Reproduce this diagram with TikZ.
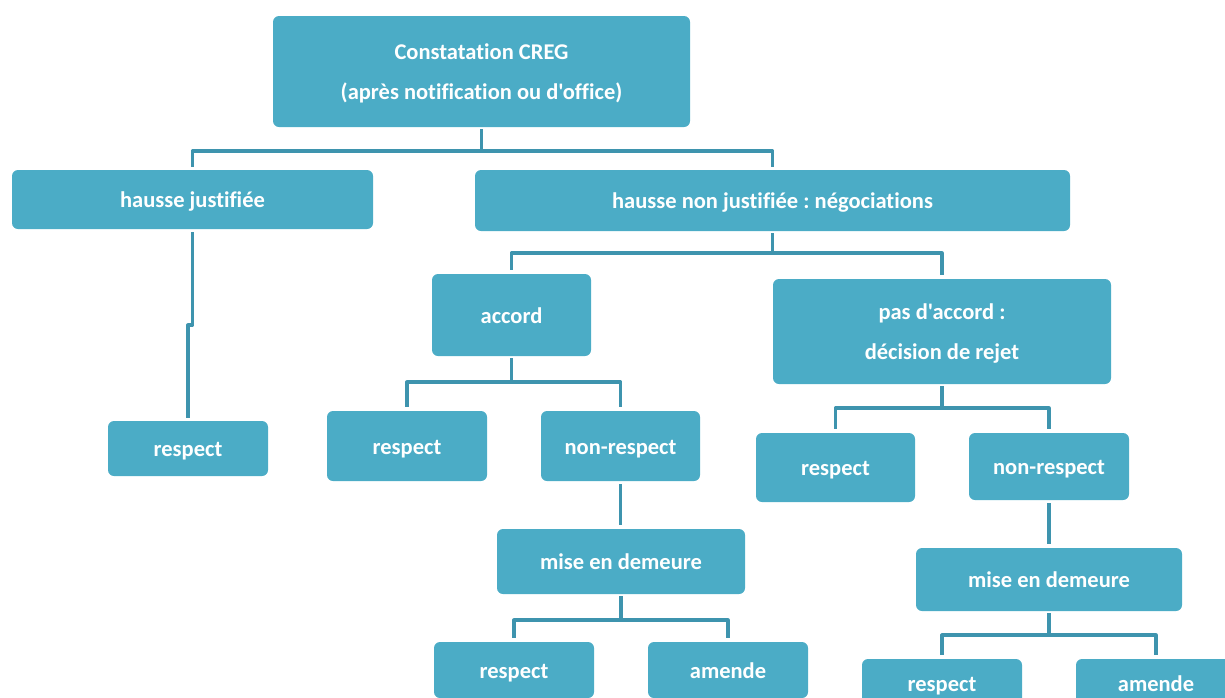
\documentclass[tikz,border=0pt]{standalone}
\usepackage{fontspec}
\newfontfamily\calib{Carlito}[Ligatures=NoCommon]
\definecolor{boxfill}{RGB}{75,172,198}
\definecolor{linecol}{RGB}{62,148,174}
\newcommand\lbl[1]{\raisebox{-2pt}{\begin{tabular}{@{}c@{}}#1\end{tabular}}}
\tikzset{
  box/.style={draw=none, fill=boxfill, rounded corners=6pt, text=white,
    font=\calib\fontsize{22.5}{40}\selectfont\bfseries\frenchspacing, align=center, inner sep=0pt},
  conn/.style={draw=linecol, line width=3.5pt, line join=round, line cap=butt},
}
\begin{document}
\begin{tikzpicture}[x=1pt,y=-1pt]
\useasboundingbox (0,0) rectangle (1225,697);
\clip (0,0) rectangle (1225,697);
% nodes
\node[box, minimum width=417pt, minimum height=111pt] (top) at (481.5,71.5) {\lbl{Constatation CREG\\(après notification ou d'office)}};
\node[box, minimum width=361pt, minimum height=59pt] (hj) at (192.5,199.5) {\lbl{hausse justifiée}};
\node[box, minimum width=595pt, minimum height=61pt] (hnj) at (772.5,200.5) {\lbl{hausse non justifiée : négociations}};
\node[box, minimum width=159pt, minimum height=82pt] (acc) at (511.5,315) {\lbl{accord}};
\node[box, minimum width=338pt, minimum height=105pt] (pda) at (942,331.5) {\lbl{pas d'accord :\\décision de rejet}};
\node[box, minimum width=160pt, minimum height=55pt] (r1) at (188,448.5) {\lbl{respect}};
\node[box, minimum width=160pt, minimum height=70pt] (r2) at (407,446) {\lbl{respect}};
\node[box, minimum width=159pt, minimum height=70pt] (nr1) at (620.5,446) {\lbl{non-respect}};
\node[box, minimum width=248pt, minimum height=65pt] (md1) at (621,561.5) {\lbl{mise en demeure}};
\node[box, minimum width=160pt, minimum height=56pt] (r3) at (514,670) {\lbl{respect}};
\node[box, minimum width=160pt, minimum height=56pt] (am1) at (728,670) {\lbl{amende}};
\node[box, minimum width=159pt, minimum height=69pt] (r4) at (835.5,467.5) {\lbl{respect}};
\node[box, minimum width=160pt, minimum height=67pt] (nr2) at (1049,466.5) {\lbl{non-respect}};
\node[box, minimum width=266pt, minimum height=63pt] (md2) at (1049,579.5) {\lbl{mise en demeure}};
\node[box, minimum width=160pt, minimum height=48pt] (r5) at (942,683) {\lbl{respect}};
\node[box, minimum width=160pt, minimum height=48pt] (am2) at (1156,683) {\lbl{amende}};
% connectors
\draw[conn, shorten <=2pt] (top.south) -- ++(0,24) coordinate (b1);
\draw[conn, shorten >=3pt] (b1) -| (hj.north);
\draw[conn, shorten >=3pt] (b1) -| (hnj.north);
\draw[conn, shorten <=3pt, shorten >=3pt] (hj.south) -- ++(0,96) -| (r1.north);
\draw[conn, shorten <=2pt] (hnj.south) -- ++(0,22) coordinate (b2);
\draw[conn, shorten >=4pt] (b2) -| (acc.north);
\draw[conn, shorten >=4pt] (b2) -| (pda.north);
\draw[conn, shorten <=2pt] (acc.south) -- ++(0,26) coordinate (b3);
\draw[conn, shorten >=4pt] (b3) -| (r2.north);
\draw[conn, shorten >=4pt] (b3) -| (nr1.north);
\draw[conn, shorten <=3pt, shorten >=4pt] (nr1.south) -- (nr1.south |- md1.north);
\draw[conn, shorten <=2pt] (md1.south) -- ++(0,26) coordinate (b4);
\draw[conn, shorten >=4pt] (b4) -| (r3.north);
\draw[conn, shorten >=4pt] (b4) -| (am1.north);
\draw[conn, shorten <=2pt] (pda.south) -- ++(0,24) coordinate (b5);
\draw[conn, shorten >=4pt] (b5) -| (r4.north);
\draw[conn, shorten >=4pt] (b5) -| (nr2.north);
\draw[conn, shorten <=3pt, shorten >=4pt] (nr2.south) -- (nr2.south |- md2.north);
\draw[conn, shorten <=2pt] (md2.south) -- ++(0,24) coordinate (b6);
\draw[conn, shorten >=4pt] (b6) -| (r5.north);
\draw[conn, shorten >=4pt] (b6) -| (am2.north);
\end{tikzpicture}
\end{document}
